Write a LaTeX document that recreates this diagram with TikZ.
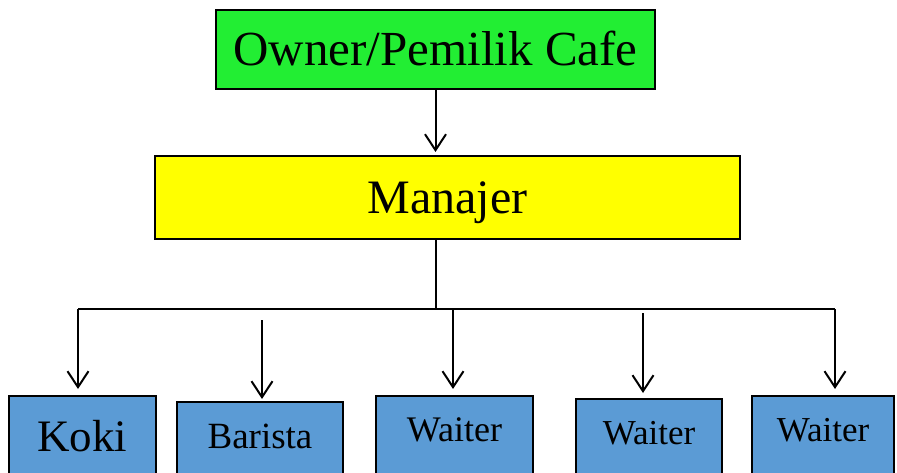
\documentclass[tikz,border=0pt]{standalone}
\usepackage{fontspec}
\setmainfont{Liberation Serif}
\usetikzlibrary{arrows.meta}
\definecolor{ownergreen}{RGB}{34,238,51}
\definecolor{manageryellow}{RGB}{255,255,0}
\definecolor{staffblue}{RGB}{91,155,213}
\begin{document}
\begin{tikzpicture}[x=1pt,y=-1pt,
  box/.style={draw=black,line width=2pt,anchor=north,inner xsep=0pt,inner ysep=0pt},
  staff/.style={box,fill=staffblue,text depth=40pt},
  link/.style={draw=black,line width=2pt},
  arr/.style={link,-{Straight Barb[length=16pt,width=21pt]}}]
\clip (0,0) rectangle (897,473);
% top of the chart
\node[box,fill=ownergreen,minimum width=439pt,text height=56pt,text depth=23pt,font=\fontsize{49}{58}\selectfont] (owner) at (435.5,9) {Owner/Pemilik Cafe};
\node[box,fill=manageryellow,minimum width=585pt,text height=58pt,text depth=25pt,font=\fontsize{48}{58}\selectfont] (manajer) at (447.5,155) {Manajer};
% staff row
\node[staff,minimum width=147pt,text height=55pt,font=\fontsize{45}{54}\selectfont] (koki) at (82.5,395) {Koki};
\node[staff,minimum width=166pt,text height=46pt,font=\fontsize{37}{44}\selectfont] (barista) at (260,401) {Barista};
\node[staff,minimum width=157pt,text height=45pt,font=\fontsize{36}{43}\selectfont] (waiter-a) at (454.5,395) {Waiter};
\node[staff,minimum width=146pt,text height=45pt,font=\fontsize{35}{42}\selectfont] (waiter-b) at (649,398) {Waiter};
\node[staff,minimum width=142pt,text height=45pt,font=\fontsize{35}{42}\selectfont] (waiter-c) at (823,395) {Waiter};
% connectors
\coordinate (hub) at (436,309);
\coordinate (bus-l) at (78,309);
\coordinate (bus-r) at (835,309);
\coordinate (bar-top) at (262,320);
\coordinate (wb-top) at (643,313);
\coordinate (wa-top) at (453,309);
\draw[arr,shorten >=3pt] (owner.south) -- (owner.south |- manajer.north);
\draw[link] (manajer.south -| hub) -- (hub);
\draw[link] (bus-l) -- (bus-r);
\draw[arr,shorten >=6pt] (bus-l) -- (bus-l |- koki.north);
\draw[arr,shorten >=2pt] (bar-top) -- (bar-top |- barista.north);
\draw[arr,shorten >=6pt] (wa-top) -- (wa-top |- waiter-a.north);
\draw[arr,shorten >=5pt] (wb-top) -- (wb-top |- waiter-b.north);
\draw[arr,shorten >=6pt] (bus-r) -- (bus-r |- waiter-c.north);
\end{tikzpicture}
\end{document}
